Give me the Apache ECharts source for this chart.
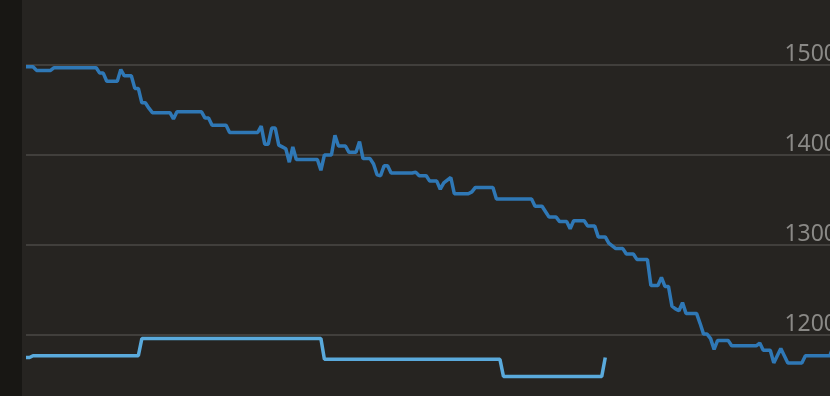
<!DOCTYPE html>
<html><head><meta charset="utf-8">
<script src="https://cdn.jsdelivr.net/npm/echarts/dist/echarts.min.js"></script>
<style>html,body{margin:0;padding:0;background:#262421;overflow:hidden}#c{width:830px;height:396px}</style>
</head><body><div id="c"></div>
<script>
// Rating axis ticks
const yTicks = [1100, 1200, 1300, 1400, 1500, 1600];
// Day categories (x axis hidden)
const days = Array.from({length: 234}, (_, i) => 'D' + (i + 1));
// Dark blue series
const darkSeries = [
1498,1498,1498,1494,1494,1494,1494,1494,1497,1497,
1497,1497,1497,1497,1497,1497,1497,1497,1497,1497,
1497,1491,1491,1482,1482,1482,1482,1495,1488,1488,
1488,1474,1474,1458,1458,1452,1447,1447,1447,1447,
1447,1447,1440,1448,1448,1448,1448,1448,1448,1448,
1448,1441,1441,1433,1433,1433,1433,1433,1425,1425,
1425,1425,1425,1425,1425,1425,1425,1432,1412,1412,
1430,1430,1411,1409,1407,1392,1409,1395,1395,1395,
1395,1395,1395,1395,1383,1400,1400,1400,1422,1410,
1410,1410,1403,1403,1403,1415,1396,1396,1396,1390,
1378,1377,1388,1388,1380,1380,1380,1380,1380,1380,
1380,1381,1377,1377,1377,1371,1371,1371,1362,1369,
1372,1375,1357,1357,1357,1357,1357,1359,1364,1364,
1364,1364,1364,1364,1351,1351,1351,1351,1351,1351,
1351,1351,1351,1351,1351,1343,1343,1343,1337,1331,
1331,1331,1326,1326,1326,1318,1327,1327,1327,1327,
1321,1321,1321,1309,1309,1309,1302,1299,1296,1296,
1296,1290,1290,1290,1284,1284,1284,1284,1255,1255,
1255,1264,1254,1254,1232,1229,1227,1236,1224,1224,
1224,1224,1213,1201,1201,1196,1184,1194,1194,1194,
1194,1188,1188,1188,1188,1188,1188,1188,1188,1191,
1183,1183,1183,1169,1177,1185,1177,1169,1169,1169,
1169,1169,1177,1177,1177,1177,1177,1177,1177,1177,
1188
];
// Light blue series
const lightSeries = [
1175,1175,1177,1177,1177,1177,1177,1177,1177,1177,
1177,1177,1177,1177,1177,1177,1177,1177,1177,1177,
1177,1177,1177,1177,1177,1177,1177,1177,1177,1177,
1177,1177,1177,1196,1196,1196,1196,1196,1196,1196,
1196,1196,1196,1196,1196,1196,1196,1196,1196,1196,
1196,1196,1196,1196,1196,1196,1196,1196,1196,1196,
1196,1196,1196,1196,1196,1196,1196,1196,1196,1196,
1196,1196,1196,1196,1196,1196,1196,1196,1196,1196,
1196,1196,1196,1196,1196,1173,1173,1173,1173,1173,
1173,1173,1173,1173,1173,1173,1173,1173,1173,1173,
1173,1173,1173,1173,1173,1173,1173,1173,1173,1173,
1173,1173,1173,1173,1173,1173,1173,1173,1173,1173,
1173,1173,1173,1173,1173,1173,1173,1173,1173,1173,
1173,1173,1173,1173,1173,1173,1154,1154,1154,1154,
1154,1154,1154,1154,1154,1154,1154,1154,1154,1154,
1154,1154,1154,1154,1154,1154,1154,1154,1154,1154,
1154,1154,1154,1154,1154,1175
];

const chart = echarts.init(document.getElementById('c'), null, {renderer: 'canvas'});
chart.setOption({
  animation: false,
  backgroundColor: '#262421',
  graphic: [{type: 'rect', z: 100, shape: {x: 0, y: 0, width: 22, height: 396}, style: {fill: '#181714'}}],
  grid: {left: 26, top: -25, width: 818, height: 450, containLabel: false, outerBoundsMode: 'none'},
  xAxis: {
    type: 'category', data: days, boundaryGap: false, show: false
  },
  yAxis: {
    type: 'value', position: 'right',
    min: yTicks[0], max: yTicks[yTicks.length - 1], interval: 100,
    axisLine: {show: false}, axisTick: {show: false},
    splitLine: {show: true, lineStyle: {color: '#413f3c', width: 2}},
    axisLabel: {
      inside: true, margin: 7, verticalAlign: 'bottom',
      color: '#8a8986', fontSize: 23, lineHeight: 22, fontFamily: 'Noto Sans',
      formatter: v => String(v)
    }
  },
  series: [
    {type: 'line', data: darkSeries, showSymbol: false, lineStyle: {color: '#2f78b6', width: 3.5}, itemStyle: {color: '#2f78b6'}},
    {type: 'line', data: lightSeries, showSymbol: false, lineStyle: {color: '#5aaadc', width: 3.5}, itemStyle: {color: '#5aaadc'}}
  ]
});
</script>
</body></html>
